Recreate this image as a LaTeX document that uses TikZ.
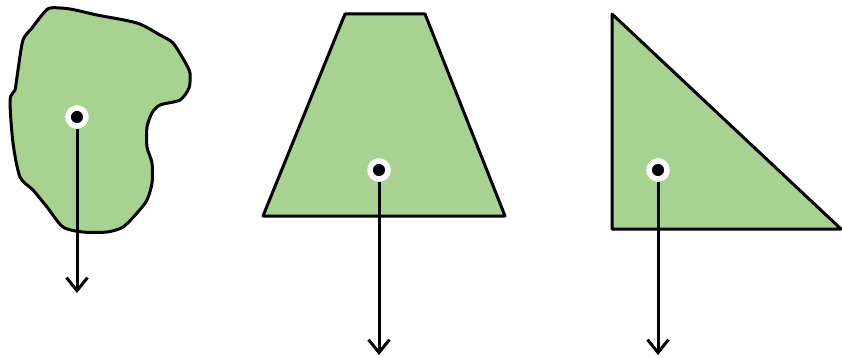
\documentclass[tikz,border=0pt]{standalone}
\usepackage{tikz}
\usetikzlibrary{arrows.meta}
\definecolor{AreaGreen}{RGB}{168,210,144}

\tikzset{
  areashape/.style={fill=AreaGreen,draw=black,line width=3pt,line join=round},
  cgdot/.style={circle,fill=black,draw=white,line width=5.5pt,minimum size=18pt,inner sep=0pt},
  loadarrow/.style={draw=black,line width=3pt,-{Straight Barb[length=13pt,width=21pt,line width=3pt]}}
}

\begin{document}
\begin{tikzpicture}[x=1pt,y=-1pt]
  \useasboundingbox (0,0) rectangle (842,358);
  % irregular area
  \draw[areashape] plot[smooth cycle,tension=0.45] coordinates {
    (50,8) (70,9) (97,15) (137,23) (160,35) (173,43) (185,62) (190,73)
    (189,88) (180,100) (160,105) (152,113) (147,127) (147,147) (152,163)
    (152,183) (147,200) (137,213) (123,227) (107,232) (83,232) (63,227)
    (47,207) (33,190) (20,177) (13,143) (10,100) (15,90) (18,70) (23,40)
    (32,28) (42,15)};
  % trapezoid
  \draw[areashape] (345,14) -- (425,14) -- (505,216) -- (263,216) -- cycle;
  % right triangle
  \draw[areashape] (612,14) -- (841,229) -- (612,229) -- cycle;

  % centroids and loads
  \node[cgdot] (cg1) at (77,117) {};
  \node[cgdot] (cg2) at (379,170) {};
  \node[cgdot] (cg3) at (658,170) {};
  \coordinate (load1) at (77,293);
  \coordinate (load2) at (379,355);
  \coordinate (load3) at (658,355);
  \draw[loadarrow] (cg1) -- (load1);
  \draw[loadarrow] (cg2) -- (load2);
  \draw[loadarrow] (cg3) -- (load3);
\end{tikzpicture}
\end{document}
